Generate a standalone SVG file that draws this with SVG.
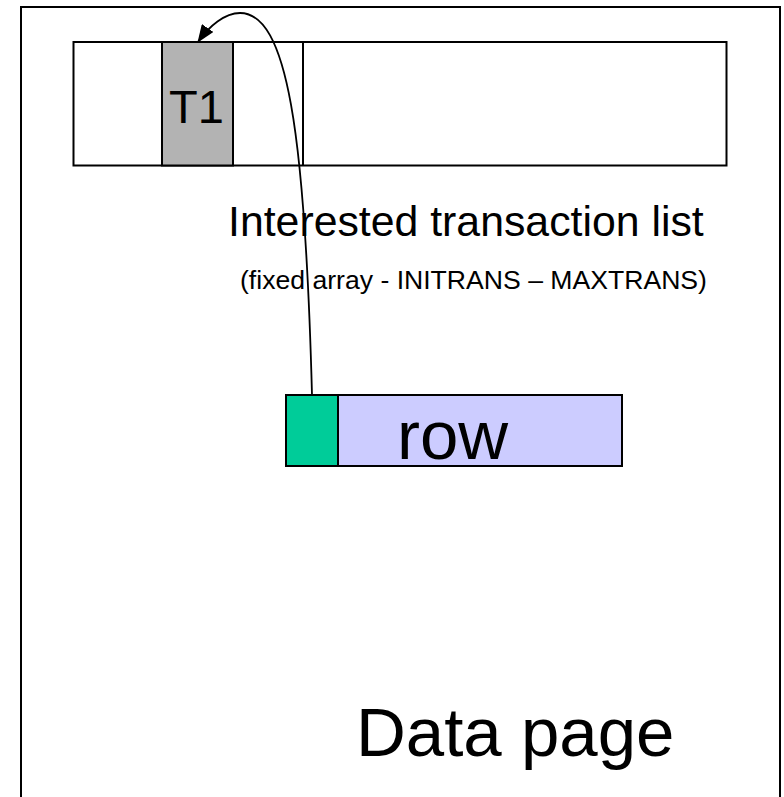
<svg xmlns="http://www.w3.org/2000/svg" width="784" height="797" viewBox="0 0 784 797">
  <style>
    .box { stroke: #000; stroke-width: 2; }
    .lbl { font-family: "Liberation Sans", Arial, sans-serif; fill: #000; }
    .conn { fill: none; stroke: #000; stroke-width: 1.8; }
  </style>
  <defs>
    <marker id="arrowhead" viewBox="0 0 18 14" refX="17" refY="7" markerWidth="18" markerHeight="14" markerUnits="userSpaceOnUse" orient="auto">
      <path d="M0,0 L18,7 L0,14 Z" fill="#000"/>
    </marker>
  </defs>
  <rect width="784" height="797" fill="#fff"/>

  <!-- outer page frame -->
  <g id="data-page">
    <rect class="box" x="21" y="7" width="759" height="800" fill="#fff"/>
    <text class="lbl" x="356" y="756" font-size="69">Data page</text>
  </g>

  <!-- interested transaction list slots -->
  <g id="itl">
    <rect class="box" x="73.5" y="42" width="653" height="123.5" fill="#fff"/>
    <line class="box" x1="303" y1="42" x2="303" y2="165.5"/>
    <text class="lbl" x="228" y="236" font-size="42.8">Interested transaction list</text>
    <text class="lbl" x="240" y="289" font-size="26.6">(fixed array - INITRANS – MAXTRANS)</text>
  </g>

  <g id="slot-t1">
    <rect class="box" x="162" y="42" width="71" height="123.5" fill="#B3B3B3"/>
    <text class="lbl" x="196.5" y="123" font-size="47" text-anchor="middle">T1</text>
  </g>

  <!-- row with its lock byte -->
  <g id="row">
    <rect class="box" x="338" y="395" width="284" height="71" fill="#CCCCFF"/>
    <text class="lbl" x="397" y="459" font-size="69">row</text>
  </g>
  <g id="lock-byte">
    <rect class="box" x="286" y="395" width="52" height="71" fill="#00CC99"/>
  </g>

  <!-- lock byte points back to its ITL slot -->
  <g id="connectors">
    <path class="conn" d="M312,395 C305,130 287,13 240,13 C225,13 209,26 198,42" marker-end="url(#arrowhead)"/>
  </g>
</svg>
